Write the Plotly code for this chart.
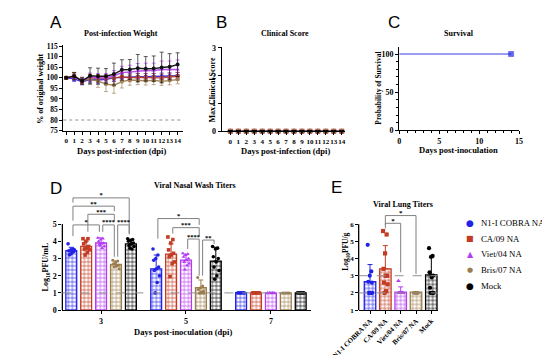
import numpy as np
import plotly.graph_objects as go

W, H = 550, 355
SERIF = "Liberation Serif"
SANS = "Liberation Sans"

# ---------------- data ----------------
group_names = ["N1-I COBRA NA", "CA/09 NA", "Viet/04 NA", "Bris/07 NA", "Mock"]
group_colors = ["#2323E6", "#C23B22", "#B43DF0", "#9C7D4E", "#000000"]
group_symbols = ["circle", "square", "triangle-up", "circle", "circle"]
legend_glyphs = ["●", "■", "▲", "●", "●"]

days = [0, 1, 2, 3, 4, 5, 6, 7, 8, 9, 10, 11, 12, 13, 14]
weight_n1 = [100, 99.5, 98.2, 99.2, 99.0, 99.3, 100.0, 100.3, 100.5, 100.6, 100.5, 100.6, 100.8, 100.9, 101.0]
weight_ca09 = [100, 101.0, 98.5, 100.0, 99.8, 99.8, 100.0, 100.5, 100.0, 100.3, 100.2, 100.3, 100.0, 100.4, 100.8]
weight_viet04 = [100, 100.3, 98.8, 100.3, 100.0, 100.0, 101.0, 102.5, 102.8, 103.3, 103.5, 103.5, 104.0, 104.0, 104.0]
weight_bris07 = [100, 100.8, 98.8, 99.3, 98.5, 97.0, 96.5, 98.2, 99.0, 98.8, 98.6, 98.8, 98.4, 98.7, 99.2]
weight_mock = [100, 100.8, 98.5, 101.0, 100.8, 100.8, 101.8, 103.8, 104.0, 104.6, 104.3, 104.4, 104.9, 105.3, 106.3]
wsd_n1 = [0.5, 1.2, 1.5, 1.5, 1.5, 1.5, 1.5, 1.5, 1.5, 1.5, 1.5, 1.5, 1.5, 1.5, 1.5]
wsd_ca09 = [0.5, 1.5, 1.5, 1.5, 1.8, 1.8, 1.8, 1.8, 1.8, 1.8, 1.8, 1.8, 1.8, 1.8, 1.8]
wsd_viet04 = [0.5, 1.5, 1.5, 2.0, 2.0, 2.0, 2.5, 3.0, 3.2, 3.5, 3.5, 3.5, 4.0, 4.0, 4.5]
wsd_bris07 = [0.5, 1.5, 1.5, 2.5, 3.0, 3.5, 3.8, 3.0, 2.5, 2.0, 2.0, 2.0, 2.0, 2.0, 2.0]
wsd_mock = [0.5, 1.8, 1.5, 3.8, 3.8, 3.6, 5.2, 4.8, 4.7, 6.5, 5.8, 6.0, 7.3, 6.2, 5.6]

clin_n1 = [0, 0, 0, 0, 0, 0, 0, 0, 0, 0, 0, 0, 0, 0, 0]
clin_ca09 = [0, 0, 0, 0, 0, 0, 0, 0, 0, 0, 0, 0, 0, 0, 0]
clin_viet04 = [0, 0, 0, 0, 0, 0, 0, 0, 0, 0, 0, 0, 0, 0, 0]
clin_bris07 = [0, 0, 0, 0, 0, 0, 0, 0, 0, 0, 0, 0, 0, 0, 0]
clin_mock = [0, 0, 0, 0, 0, 0, 0, 0, 0, 0, 0, 0, 0, 0, 0]

surv_days = [0, 14]
surv_pct = [100, 100]

nasal_days = ["3", "5", "7"]
nasal_mean_n1 = [3.45, 2.4, 1.02]
nasal_mean_ca09 = [3.7, 3.25, 1.02]
nasal_mean_viet04 = [3.9, 2.9, 1.0]
nasal_mean_bris07 = [2.65, 1.3, 1.0]
nasal_mean_mock = [3.85, 2.85, 1.0]
nasal_sd_n1 = [0.2, 0.8, 0.0]
nasal_sd_ca09 = [0.3, 0.6, 0.0]
nasal_sd_viet04 = [0.3, 0.35, 0.0]
nasal_sd_bris07 = [0.2, 0.45, 0.0]
nasal_sd_mock = [0.2, 0.8, 0.0]

d3_pts_n1 = [3.85, 3.55, 3.5, 3.45, 3.4, 3.3, 3.2, 3.5, 3.45, 3.25]
d3_pts_ca09 = [4.15, 4.15, 4.0, 3.85, 3.7, 3.6, 3.55, 3.5, 3.35, 3.2]
d3_pts_viet04 = [4.2, 4.15, 4.1, 4.0, 3.9, 3.85, 3.8, 3.7, 3.6, 3.75]
d3_pts_bris07 = [2.9, 2.85, 2.8, 2.7, 2.6, 2.55, 2.5, 2.4, 2.6, 2.7]
d3_pts_mock = [4.15, 4.1, 4.05, 4.0, 3.9, 3.85, 3.75, 3.7, 3.55, 3.6]
d5_pts_n1 = [3.55, 3.2, 3.0, 2.9, 2.5, 2.4, 2.3, 2.0, 1.6, 1.0]
d5_pts_ca09 = [4.25, 4.1, 3.9, 3.5, 3.3, 3.2, 3.1, 2.8, 2.7, 1.95]
d5_pts_viet04 = [3.3, 3.25, 3.2, 3.1, 3.0, 2.9, 2.8, 2.7, 2.6, 2.35]
d5_pts_bris07 = [1.9, 1.4, 1.3, 1.2, 1.1, 1.05, 1.0, 1.0, 1.0, 1.0]
d5_pts_mock = [3.7, 3.6, 3.55, 3.1, 3.0, 2.8, 2.5, 2.3, 2.0, 1.8]
d7_pts_all = [1.0, 1.0, 1.0, 1.0, 1.0]

lung_mean = [2.65, 3.4, 2.05, 2.05, 3.05]
lung_sd = [1.0, 1.35, 0.3, 0.0, 1.0]
lung_pts_n1 = [4.8, 3.25, 3.0, 2.65, 2.6, 2.0, 2.0, 2.0, 2.0, 2.0]
lung_pts_ca09 = [5.6, 5.4, 4.3, 3.4, 3.0, 3.0, 2.6, 2.5, 2.1, 2.0]
lung_pts_viet04 = [2.7, 2.0, 2.0, 2.0, 2.0, 2.0, 2.0, 2.0, 2.0, 2.0]
lung_pts_bris07 = [2.0, 2.0, 2.0, 2.0, 2.0, 2.0, 2.0, 2.0, 2.0, 2.0]
lung_pts_mock = [4.6, 4.15, 4.1, 3.2, 3.0, 2.9, 2.3, 2.0, 2.0, 2.0]

# significance comparisons (nasal wash): group index, bar i, bar j, label
nasal_cmp_group = [0, 0, 0, 0, 0, 0, 1, 1, 1, 1]
nasal_cmp_i = [0, 0, 1, 0, 2, 3, 0, 1, 2, 3]
nasal_cmp_j = [4, 3, 3, 2, 3, 4, 3, 3, 3, 4]
nasal_cmp_label = ["*", "**", "***", "*", "****", "****", "*", "***", "****", "**"]
nasal_cmp_top = [6.52, 6.04, 5.57, 4.95, 4.95, 4.95, 5.32, 4.79, 4.13, 4.07]
nasal_cmp_lbot = [6.25, 5.2, 4.55, 4.3, 4.55, 3.1, 4.15, 4.45, 3.55, 2.0]
nasal_cmp_rbot = [4.45, 5.75, 5.2, 4.55, 3.1, 4.4, 4.95, 4.3, 2.0, 3.85]

lung_cmp_i = [1, 1]
lung_cmp_j = [3, 2]
lung_cmp_label = ["*", "*"]
lung_cmp_top = [6.5, 6.05]
lung_cmp_lbot = [5.95, 5.75]
lung_cmp_rbot = [3.1, 3.2]

# ---------------- helpers ----------------
def dx(a, b):
    return [a / W, b / W]


def dy(top, bottom):
    return [1 - bottom / H, 1 - top / H]


def px(x):
    return x / W


def py(y):
    return 1 - y / H


def tf(size):
    return dict(family=SERIF, size=size, color="black", weight="bold")


def axis(**kw):
    base = dict(showline=True, linecolor="black", linewidth=1.3, ticks="outside",
                ticklen=3, tickwidth=1, tickcolor="black", showgrid=False,
                zeroline=False, tickfont=tf(8), fixedrange=True, tickangle=0)
    base.update(kw)
    return base


def jitter(n, spread):
    if n == 1:
        return [0.0]
    order = [(i * 7) % n for i in range(n)]
    return [(o / (n - 1) - 0.5) * spread for o in order]


fig = go.Figure()

# ---------------- Panel A ----------------
weights = [weight_n1, weight_ca09, weight_viet04, weight_bris07, weight_mock]
wsds = [wsd_n1, wsd_ca09, wsd_viet04, wsd_bris07, wsd_mock]
for k in range(5):
    fig.add_trace(go.Scatter(
        x=days, y=weights[k], mode="lines+markers", xaxis="x", yaxis="y",
        line=dict(color=group_colors[k], width=1.4),
        marker=dict(color=group_colors[k], size=4, symbol=group_symbols[k]),
        error_y=dict(type="data", array=wsds[k], color=group_colors[k],
                     thickness=0.7, width=2, symmetric=True),
        showlegend=False, opacity=0.9))

# ---------------- Panel B ----------------
clins = [clin_n1, clin_ca09, clin_viet04, clin_bris07, clin_mock]
for k in range(5):
    fig.add_trace(go.Scatter(
        x=days, y=clins[k], mode="lines+markers", xaxis="x2", yaxis="y2",
        line=dict(color=group_colors[k], width=1),
        marker=dict(color=group_colors[k], size=5,
                    symbol="triangle-down" if k == 4 else group_symbols[k]),
        cliponaxis=False, showlegend=False))

# ---------------- Panel C ----------------
fig.add_trace(go.Scatter(
    x=surv_days, y=surv_pct, mode="lines+markers", xaxis="x3", yaxis="y3",
    line=dict(color="#3A3AE6", width=1, shape="hv"),
    marker=dict(color="#2323E6", size=[0, 5], symbol="square"),
    cliponaxis=False, showlegend=False))

# ---------------- Panel D ----------------
slot = 0.1756
bw = 0.128
nasal_means = [nasal_mean_n1, nasal_mean_ca09, nasal_mean_viet04, nasal_mean_bris07, nasal_mean_mock]
nasal_sds = [nasal_sd_n1, nasal_sd_ca09, nasal_sd_viet04, nasal_sd_bris07, nasal_sd_mock]
d3 = [d3_pts_n1, d3_pts_ca09, d3_pts_viet04, d3_pts_bris07, d3_pts_mock]
d5 = [d5_pts_n1, d5_pts_ca09, d5_pts_viet04, d5_pts_bris07, d5_pts_mock]
gx = list(range(len(nasal_days)))
for k in range(5):
    off = (k - 2) * slot
    fig.add_trace(go.Bar(
        x=gx, y=nasal_means[k], xaxis="x4", yaxis="y4",
        offset=off - bw / 2, width=bw,
        marker=dict(color="white",
                    line=dict(color=group_colors[k], width=1.3),
                    pattern=dict(shape="+", fgcolor=group_colors[k], bgcolor="white",
                                 size=4, solidity=0.3, fillmode="replace")),
        error_y=dict(type="data", array=nasal_sds[k], arrayminus=[0] * 3,
                     symmetric=False, color=group_colors[k], thickness=1, width=2.5),
        showlegend=False))
    xs, ys = [], []
    for gi, pts in enumerate([d3[k], d5[k], d7_pts_all]):
        js = jitter(len(pts), 0.075)
        xs += [gi + off + j for j in js]
        ys += pts
    fig.add_trace(go.Scatter(
        x=xs, y=ys, mode="markers", xaxis="x4", yaxis="y4",
        marker=dict(color=group_colors[k], size=3.6 if k != 3 else 3.0,
                    symbol=group_symbols[k]),
        cliponaxis=False, showlegend=False))

inset = 0.02
bx, by, sx, sy, st = [], [], [], [], []
for c in range(len(nasal_cmp_label)):
    g = nasal_cmp_group[c]
    x0 = g + (nasal_cmp_i[c] - 2) * slot + inset
    x1 = g + (nasal_cmp_j[c] - 2) * slot - inset
    bx += [x0, x0, x1, x1, None]
    by += [nasal_cmp_lbot[c], nasal_cmp_top[c], nasal_cmp_top[c], nasal_cmp_rbot[c], None]
    sx.append((x0 + x1) / 2)
    sy.append(nasal_cmp_top[c] + 0.12)
    st.append(nasal_cmp_label[c])
fig.add_trace(go.Scatter(x=bx, y=by, mode="lines", xaxis="x4", yaxis="y4",
                         line=dict(color="#808080", width=1), showlegend=False,
                         hoverinfo="skip"))
fig.add_trace(go.Scatter(x=sx, y=sy, mode="text", text=st, xaxis="x4", yaxis="y4",
                         textfont=dict(family=SERIF, size=6.5, color="black", weight="bold"),
                         textposition="middle center", cliponaxis=False,
                         showlegend=False, hoverinfo="skip"))

# ---------------- Panel E ----------------
ebw = 0.75
lung_pts = [lung_pts_n1, lung_pts_ca09, lung_pts_viet04, lung_pts_bris07, lung_pts_mock]
for k in range(5):
    fig.add_trace(go.Bar(
        x=[k], y=[lung_mean[k]], xaxis="x5", yaxis="y5",
        offset=-ebw / 2, width=ebw,
        marker=dict(color="white",
                    line=dict(color=group_colors[k], width=1.3),
                    pattern=dict(shape="+", fgcolor=group_colors[k], bgcolor="white",
                                 size=4, solidity=0.3, fillmode="replace")),
        error_y=dict(type="data", array=[lung_sd[k]], arrayminus=[0],
                     symmetric=False, color=group_colors[k], thickness=1, width=2.5),
        showlegend=False))
for k in range(5):
    js = jitter(len(lung_pts[k]), 0.3)
    fig.add_trace(go.Scatter(
        x=[k + j for j in js], y=lung_pts[k], mode="markers", xaxis="x5", yaxis="y5",
        marker=dict(color=group_colors[k], size=4.2 if k != 3 else 3.4,
                    symbol=group_symbols[k]),
        cliponaxis=False, showlegend=False))

bx, by, sx, sy, st = [], [], [], [], []
for c in range(len(lung_cmp_label)):
    x0 = lung_cmp_i[c]
    x1 = lung_cmp_j[c]
    bx += [x0, x0, x1, x1, None]
    by += [lung_cmp_lbot[c], lung_cmp_top[c], lung_cmp_top[c], lung_cmp_rbot[c], None]
    sx.append((x0 + x1) / 2)
    sy.append(lung_cmp_top[c] + 0.12)
    st.append(lung_cmp_label[c])
fig.add_trace(go.Scatter(x=bx, y=by, mode="lines", xaxis="x5", yaxis="y5",
                         line=dict(color="#808080", width=1), showlegend=False,
                         hoverinfo="skip"))
fig.add_trace(go.Scatter(x=sx, y=sy, mode="text", text=st, xaxis="x5", yaxis="y5",
                         textfont=dict(family=SERIF, size=7, color="black", weight="bold"),
                         textposition="middle center", cliponaxis=False,
                         showlegend=False, hoverinfo="skip"))

# ---------------- layout ----------------
layout = dict(
    width=W, height=H, margin=dict(l=0, r=0, t=0, b=0),
    paper_bgcolor="white", plot_bgcolor="rgba(0,0,0,0)",
    barmode="overlay", showlegend=False,
    xaxis=axis(domain=dx(30, 157), range=[-0.36, 14.7], tickvals=days, anchor="y",
               tickfont=tf(7)),
    yaxis=axis(domain=dy(35, 122.3), range=[75, 115.5],
               tickvals=[75, 80, 85, 90, 95, 100, 105, 110, 115], anchor="x",
               tickfont=tf(7.5)),
    xaxis2=axis(domain=dx(198, 329), range=[-1.07, 14.47], tickvals=days, anchor="y2",
                tickfont=tf(7)),
    yaxis2=axis(domain=dy(37, 123), range=[0, 3.03], tickvals=[0, 1, 2, 3], anchor="x2"),
    xaxis3=axis(domain=dx(386, 513), range=[0, 15], tickvals=[0, 5, 10, 15], anchor="y3",
                minor=dict(dtick=1, ticks="outside", ticklen=2, tickcolor="black")),
    yaxis3=axis(domain=dy(37, 122), range=[0, 109], tickvals=[0, 50, 100], anchor="x3",
                minor=dict(dtick=10, ticks="outside", ticklen=2, tickcolor="black")),
    xaxis4=axis(domain=dx(29, 292), range=[-0.456, 2.467], tickvals=gx,
                ticktext=nasal_days, anchor="y4"),
    yaxis4=axis(domain=dy(181, 306), range=[0, 7.1], tickvals=[0, 1, 2, 3, 4, 5],
                showline=False, anchor="x4"),
    xaxis5=axis(domain=dx(343, 427), range=[-0.74, 4.43], tickvals=[0, 1, 2, 3, 4],
                ticktext=group_names, tickangle=-45, anchor="y5", tickfont=tf(7)),
    yaxis5=axis(domain=dy(204, 306), range=[1, 6.8], tickvals=[1, 2, 3, 4, 5, 6],
                showline=False, anchor="x5", tickfont=tf(7), ticklen=2.5),
)
fig.update_layout(**layout)

shapes = [
    dict(type="line", xref="x4 domain", yref="y4", x0=0, x1=0, y0=0, y1=5,
         line=dict(color="black", width=1.3)),
    dict(type="line", xref="x5 domain", yref="y5", x0=0, x1=0, y0=1, y1=6,
         line=dict(color="black", width=1.3)),
    dict(type="line", xref="x domain", yref="y", x0=0, x1=1, y0=80, y1=80,
         line=dict(color="#909090", width=1, dash="dot")),
    dict(type="line", xref="x4 domain", yref="y4", x0=0, x1=1, y0=1, y1=1,
         line=dict(color="#909090", width=1, dash="dash")),
    dict(type="line", xref="x5 domain", yref="y5", x0=0, x1=1, y0=2, y1=2,
         line=dict(color="#909090", width=1, dash="dash")),
    dict(type="line", xref="x5 domain", yref="y5", x0=0, x1=1, y0=3, y1=3,
         line=dict(color="#909090", width=1, dash="dash")),
]
fig.update_layout(shapes=shapes)

ann = []


def label(text, x, y, size=8.5, bold=True, family=SERIF, angle=0, anchor="center",
          color="black"):
    ann.append(dict(text=text, x=px(x), y=py(y), xref="paper", yref="paper",
                    xanchor=anchor, yanchor="middle", showarrow=False,
                    textangle=angle, borderpad=0,
                    font=dict(family=family, size=size, color=color,
                              weight="bold" if bold else "normal")))


for letter, lx, ly in [("A", 22, 12), ("B", 198, 12), ("C", 380, 12), ("D", 22, 182), ("E", 320, 181)]:
    label(letter, lx, ly, size=17, bold=False, family=SANS)
label("Post-infection Weight", 91, 23, size=8)
label("Clinical Score", 265, 23, size=8)
label("Survival", 449, 23, size=8)
label("Viral Nasal Wash Titers", 170, 179, size=8)
label("Viral Lung Titers", 390, 198, size=8)
label("Days post-infection (dpi)", 92, 143, size=8.5)
label("Days post-infection (dpi)", 265, 143, size=8.5)
label("Days post-inoculation", 449, 142, size=8.5)
label("Days post-inoculation (dpi)", 157, 328, size=8.5)
label("% of original weight", 6, 80, size=8, angle=-90)
label("Max Clinical Score", 188, 80, size=8, angle=-90)
label("Probability of Survival", 364, 79, size=7.5, angle=-90)
label("Log<sub>10</sub>PFU/mL", 12, 262, size=8, angle=-90)
label("Log<sub>10</sub>PFU/g", 330, 246, size=7.5, angle=-90)

# legend (text annotations)
legend_rows = [217, 233, 249, 265, 281]
glyph_sizes = [9, 8, 8, 7, 9]
for k in range(5):
    label(legend_glyphs[k], 461, legend_rows[k], size=glyph_sizes[k], bold=False,
          family="DejaVu Sans", color=group_colors[k])
    label(group_names[k], 472, legend_rows[k], size=8.8, bold=False, anchor="left")
fig.update_layout(annotations=ann)

fig.write_html("out.html")
